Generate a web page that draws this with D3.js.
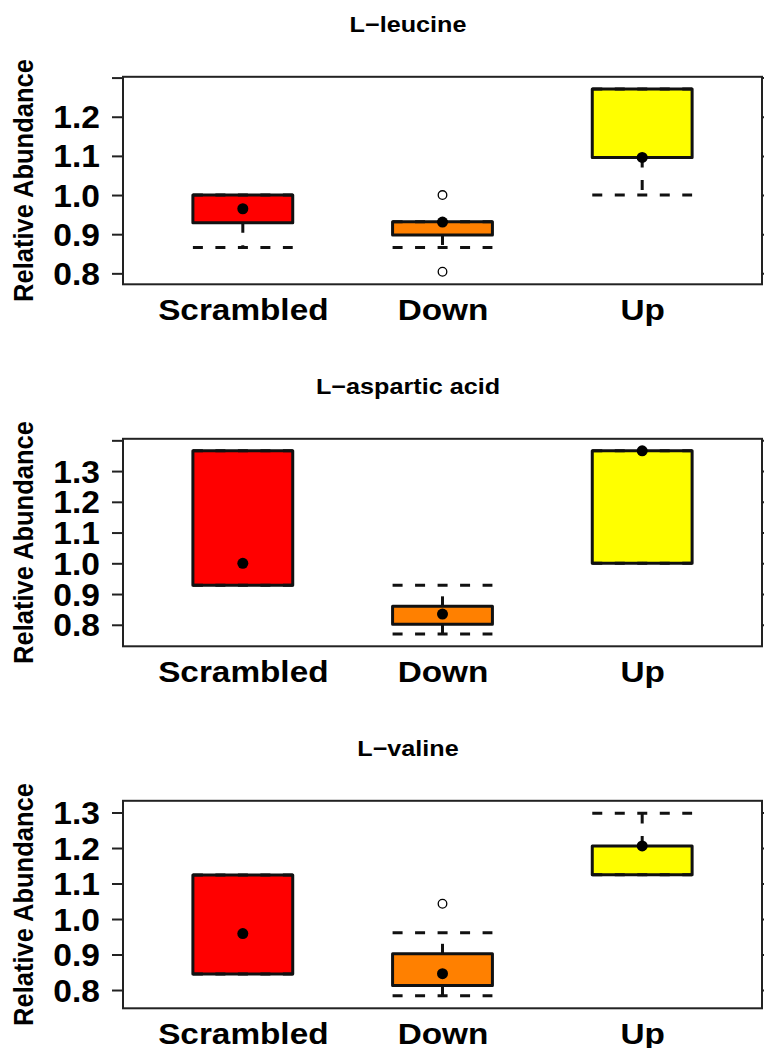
<!DOCTYPE html>
<html>
<head>
<meta charset="utf-8">
<script src="https://cdn.jsdelivr.net/npm/d3@7"></script>
<style>
  html, body { margin: 0; padding: 0; background: #fff; }
  svg { display: block; }
</style>
</head>
<body>
<svg id="chart" width="764" height="1048"></svg>
<script>
// ---- data ----
const groups = ["Scrambled", "Down", "Up"];
const groupColors = ["#ff0000", "#ff8000", "#ffff00"];
const titles = ["L\u2212leucine", "L\u2212aspartic acid", "L\u2212valine"];

// five-number summaries per group: [lower whisker, Q1, median, Q3, upper whisker]
const leucineStats = [
  [0.866, 0.929, 0.965, 1.000, 1.000],
  [0.866, 0.898, 0.931, 0.932, 0.932],
  [1.000, 1.096, 1.096, 1.271, 1.271]
];
const leucineOutliers = [[], [1.000, 0.804], []];

const asparticStats = [
  [0.929, 0.929, 1.000, 1.366, 1.366],
  [0.770, 0.802, 0.835, 0.860, 0.929],
  [1.000, 1.000, 1.366, 1.366, 1.366]
];
const asparticOutliers = [[], [], []];

const valineStats = [
  [0.845, 0.845, 0.959, 1.124, 1.124],
  [0.784, 0.813, 0.846, 0.902, 0.961],
  [1.125, 1.125, 1.206, 1.206, 1.298]
];
const valineOutliers = [[], [1.043], []];

const yTicks = [
  [0.8, 0.9, 1.0, 1.1, 1.2, 1.3],
  [0.8, 0.9, 1.0, 1.1, 1.2, 1.3, 1.4],
  [0.8, 0.9, 1.0, 1.1, 1.2, 1.3]
];
const yTickLabels = [
  ["0.8", "0.9", "1.0", "1.1", "1.2", ""],
  ["0.8", "0.9", "1.0", "1.1", "1.2", "1.3", ""],
  ["0.8", "0.9", "1.0", "1.1", "1.2", "1.3"]
];
const yLimits = [[0.772, 1.302], [0.730, 1.405], [0.7485, 1.333]];
const yTitle = "Relative Abundance";

const panels = [
  { title: titles[0], stats: leucineStats, outliers: leucineOutliers },
  { title: titles[1], stats: asparticStats, outliers: asparticOutliers },
  { title: titles[2], stats: valineStats, outliers: valineOutliers }
];

// ---- layout ----
const plotLeft = 123, plotRight = 762;
const panelTop0 = 76.8, panelStep = 362, plotHeight = 207.5;
const FONT = "'Liberation Sans', Arial, Helvetica, sans-serif";
const stretch = 1.1;      // horizontal widening of the lettering
const ink = "#111";

const svg = d3.select("#chart");
const x = d3.scaleLinear().domain([0.4, 3.6]).range([plotLeft, plotRight]);
const halfBox = 0.25;

panels.forEach((p, pi) => {
  const top = panelTop0 + pi * panelStep;
  const bottom = top + plotHeight;
  const y = d3.scaleLinear().domain(yLimits[pi]).range([bottom, top]);
  const g = svg.append("g");

  // title
  g.append("text")
    .attr("transform", `translate(408,${top - 44.8}) scale(1.12,1)`)
    .attr("text-anchor", "middle")
    .attr("font-family", FONT).attr("font-weight", "bold")
    .attr("font-size", 22.5).attr("fill", "#000")
    .text(p.title);

  // y-axis title
  g.append("text")
    .attr("transform", `translate(33,${(top + bottom) / 2}) rotate(-90) scale(1,1.1)`)
    .attr("text-anchor", "middle")
    .attr("font-family", FONT).attr("font-weight", "bold")
    .attr("font-size", 25.5).attr("fill", "#000")
    .text(yTitle);

  const boxes = g.append("g");
  p.stats.forEach((s, i) => {
    const cx = i + 1;
    const x0 = x(cx - halfBox), x1 = x(cx + halfBox);
    // box fill
    boxes.append("rect")
      .attr("x", x0).attr("y", y(s[3]))
      .attr("width", x1 - x0).attr("height", y(s[1]) - y(s[3]))
      .attr("fill", groupColors[i]);
    // whiskers, drawn from hinge outward
    [[s[1], s[0]], [s[3], s[4]]].forEach(([h, w]) => {
      boxes.append("line")
        .attr("x1", x(cx)).attr("x2", x(cx))
        .attr("y1", y(h)).attr("y2", y(w))
        .attr("stroke", ink).attr("stroke-width", 3)
        .attr("stroke-dasharray", "10,12.5");
    });
    // staples
    [s[0], s[4]].forEach(w => {
      boxes.append("line")
        .attr("x1", x0).attr("x2", x1)
        .attr("y1", y(w)).attr("y2", y(w))
        .attr("stroke", ink).attr("stroke-width", 3)
        .attr("stroke-dasharray", "10,12.5");
    });
    // box border
    boxes.append("rect")
      .attr("x", x0).attr("y", y(s[3]))
      .attr("width", x1 - x0).attr("height", y(s[1]) - y(s[3]))
      .attr("fill", "none").attr("stroke", ink).attr("stroke-width", 3)
      .attr("stroke-linejoin", "round");
    // median
    boxes.append("circle")
      .attr("cx", x(cx)).attr("cy", y(s[2])).attr("r", 5.5)
      .attr("fill", "#000");
    // outliers
    p.outliers[i].forEach(v => {
      boxes.append("circle")
        .attr("cx", x(cx)).attr("cy", y(v)).attr("r", 4.3)
        .attr("fill", "#fff").attr("stroke", "#000").attr("stroke-width", 1.3);
    });
  });

  // frame
  g.append("rect")
    .attr("x", plotLeft).attr("y", top)
    .attr("width", plotRight - plotLeft).attr("height", plotHeight)
    .attr("fill", "none").attr("stroke", "#222").attr("stroke-width", 2);

  // left axis
  const left = g.append("g")
    .attr("transform", `translate(${plotLeft},0)`)
    .call(d3.axisLeft(y).tickValues(yTicks[pi]).tickSize(11)
      .tickFormat((d, k) => yTickLabels[pi][k]));
  left.select(".domain").remove();
  left.selectAll(".tick line").attr("stroke", "#222").attr("stroke-width", 2);
  left.selectAll(".tick text")
    .attr("x", 0).attr("dy", "0.36em")
    .attr("transform", `translate(${100 - plotLeft},0) scale(${stretch},1)`)
    .attr("text-anchor", "end")
    .attr("font-family", FONT).attr("font-weight", "bold")
    .attr("font-size", 30.5).attr("fill", "#000");

  // right axis (ticks only)
  const right = g.append("g")
    .attr("transform", `translate(${plotRight},0)`)
    .call(d3.axisRight(y).tickValues(yTicks[pi]).tickSize(11).tickFormat(""));
  right.select(".domain").remove();
  right.selectAll(".tick line").attr("stroke", "#222").attr("stroke-width", 2);

  // category labels
  const bottomAxis = g.append("g")
    .attr("transform", `translate(0,${bottom})`)
    .call(d3.axisBottom(x).tickValues([1, 2, 3]).tickSize(0)
      .tickFormat(d => groups[d - 1]));
  bottomAxis.select(".domain").remove();
  bottomAxis.selectAll(".tick line").remove();
  bottomAxis.selectAll(".tick text")
    .attr("y", 0).attr("dy", 0)
    .attr("transform", `translate(0,35.5) scale(${stretch},1)`)
    .attr("font-family", FONT).attr("font-weight", "bold")
    .attr("font-size", 30.3).attr("fill", "#000");
});
</script>
</body>
</html>
